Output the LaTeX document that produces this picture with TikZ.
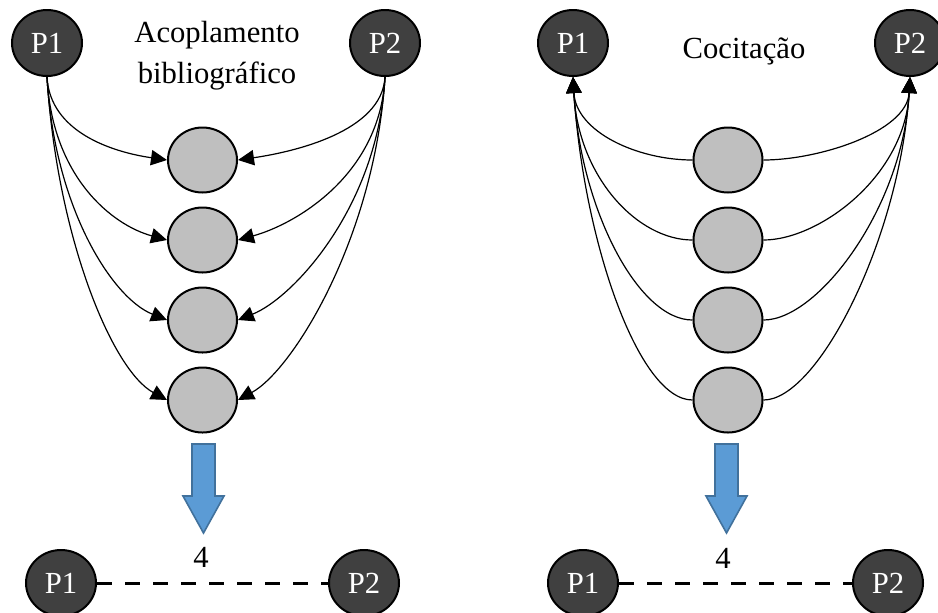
\documentclass[tikz,border=0pt]{standalone}
\usepackage{fontspec}
\setmainfont{Liberation Serif}
\usetikzlibrary{arrows.meta,shapes.geometric}

\definecolor{pubfill}{HTML}{404040}
\definecolor{reffill}{HTML}{BFBFBF}
\definecolor{bluefill}{HTML}{5B9BD5}
\definecolor{blueedge}{HTML}{41719C}

\begin{document}
\begin{tikzpicture}[x=0.75pt,y=-0.75pt,
  pub/.style={ellipse, draw=black, line width=1.5pt, fill=pubfill, text=white,
    minimum width=52.5pt, minimum height=49.5pt, inner sep=0pt,
    font=\fontsize{23}{27}\selectfont},
  refnode/.style={ellipse, draw=black, line width=1.5pt, fill=reffill,
    minimum width=51.75pt, minimum height=48.75pt, inner sep=0pt},
  citearrow/.style={line width=0.9pt, -{Triangle[length=12pt,width=11.5pt]}},
  title/.style={font=\fontsize{23}{30.75}\selectfont, align=center},
  weightline/.style={line width=2.25pt, dash pattern=on 11pt off 10pt},
  bigarrow/.style={fill=bluefill, draw=blueedge, line width=1.2pt, line join=miter}]

\useasboundingbox (0,0) rectangle (938,612);

% publications at the top of both panels
\node[pub] (lp1) at (47,43) {P1};
\node[pub] (lp2) at (385,43) {P2};
\node[pub] (rp1) at (573,43) {P1};
\node[pub] (rp2) at (910,43) {P2};

% titles
\node[title] (ltitle) at (217,56) {Acoplamento\\bibliográfico};
\node[title, anchor=base] (rtitle) at (744,58) {Cocitação};

% shared references / citing documents
\foreach \i/\cy in {1/160,2/240,3/320,4/400}{
  \node[refnode] (lc\i) at (202.5,\cy) {};
  \node[refnode] (rc\i) at (728,\cy) {};
}

% citation links
\foreach \i/\dx/\dy/\ey in {1/3/55/8, 2/5/100/15, 3/7/130/22, 4/10/160/30}{
  \draw[citearrow] (lp1.south) .. controls +(\dx,\dy) and +(-55,-\ey) .. (lc\i.west);
  \draw[citearrow] (lp2.south) .. controls +(-\dx,\dy) and +(55,-\ey) .. (lc\i.east);
  \draw[citearrow] (rc\i.west) .. controls +(-55,0) and +(\dx,\dy) .. (rp1.south);
  \draw[citearrow] (rc\i.east) .. controls +(55,0) and +(-\dx,\dy) .. (rp2.south);
}

% block arrows
\foreach \ax in {203.5,726.5}{
  \draw[bigarrow] (\ax-11.5,444) -- (\ax+11.5,444) -- (\ax+11.5,496) -- (\ax+20.5,496)
    -- (\ax,533) -- (\ax-20.5,496) -- (\ax-11.5,496) -- cycle;
}

% resulting weighted links
\node[pub] (bl1) at (61,583) {P1};
\node[pub] (bl2) at (364,583) {P2};
\node[pub] (br1) at (583,583) {P1};
\node[pub] (br2) at (888,583) {P2};

\node[title] (lw) at (201,557) {4};
\node[title] (rw) at (723,558) {4};

\draw[weightline] (bl1.east) -- (bl2.west);
\draw[weightline] (br1.east) -- (br2.west);

\end{tikzpicture}
\end{document}
